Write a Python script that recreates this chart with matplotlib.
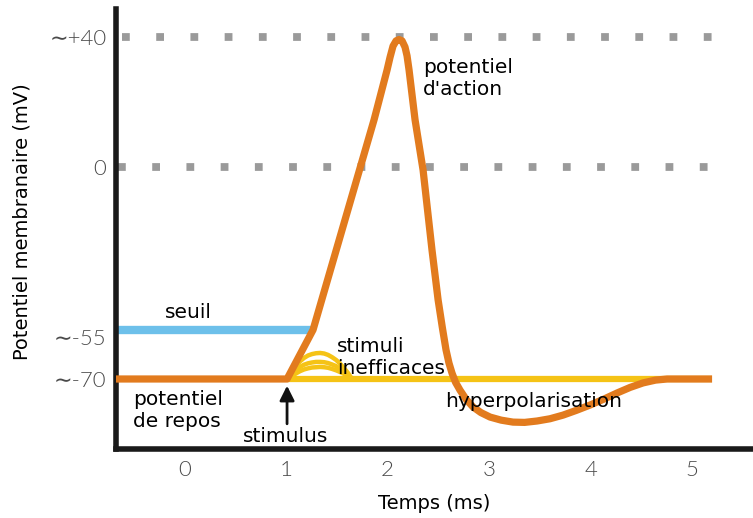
import numpy as np
import matplotlib
matplotlib.use("Agg")
import matplotlib.pyplot as plt

# ---------------- data ----------------
# action potential trace (time in ms, membrane potential in mV)
ap_t = [-0.68, 1.01, 1.266, 1.867, 1.995, 2.025, 2.054, 2.084, 2.113, 2.143,
        2.172, 2.192, 2.212, 2.271, 2.350, 2.438, 2.498, 2.540, 2.576, 2.605,
        2.635, 2.670, 2.714, 2.775, 2.842, 2.920, 3.010, 3.120, 3.236, 3.350,
        3.473, 3.600, 3.729, 3.860, 3.995, 4.130, 4.261, 4.390, 4.517, 4.640,
        4.754, 4.900, 5.197]
ap_v = [-70, -70, -52.7, 14.5, 29.8, 33.8, 37.2, 38.8, 39.2, 38.8,
        36.9, 34.2, 29.8, 14.5, -1.0, -26.9, -43.0, -52.0, -59.6, -64.3,
        -67.9, -71.2, -74.0, -77.3, -80.0, -82.0, -83.6, -84.7, -85.4, -85.5,
        -85.0, -84.2, -82.9, -81.2, -79.3, -77.2, -75.0, -73.0, -71.4, -70.4,
        -70.0, -70.0, -70.0]

# threshold line (seuil)
seuil_t = [-0.68, 1.266]
seuil_v = [-52.7, -52.7]

# resting baseline after stimulus (yellow)
base_t = [1.01, 5.197]
base_v = [-70, -70]

# ineffective stimuli bumps
bump_t = [1.020, 1.060, 1.099, 1.138, 1.177, 1.217, 1.256, 1.296, 1.335,
          1.375, 1.414, 1.453, 1.493, 1.532, 1.571, 1.611, 1.650]
bump1_v = [-70, -67.3, -65.4, -63.7, -62.5, -61.6, -61.1, -60.8, -60.7,
           -60.9, -61.4, -62.2, -63.2, -64.5, -66.1, -67.9, -70]
bump2_v = [-70, -68.1, -66.8, -65.7, -64.9, -64.4, -64.1, -63.9, -63.9,
           -64.0, -64.3, -64.8, -65.4, -66.3, -67.3, -68.6, -70]
bump3_v = [-70, -68.9, -68.0, -67.2, -66.6, -66.2, -65.9, -65.8, -65.7,
           -65.8, -66.0, -66.4, -66.9, -67.5, -68.2, -69.0, -70]

xticks = [0, 1, 2, 3, 4, 5]
ytick_vals = [-70, -55, 0, 40]
ytick_labels = ["\u223c-70", "\u223c-55", "0", "\u223c+40"]
ref_levels = [40, 0]

# ---------------- scale (schematic, piecewise) ----------------
mv_pts = np.array([-100.0, -70.0, -55.0, 0.0, 40.0, 60.0])
pos_pts = np.array([-463.0, -379.0, -337.0, -167.0, -37.0, 28.0])

def fwd(y):
    return np.interp(y, mv_pts, pos_pts)

def inv(p):
    return np.interp(p, pos_pts, mv_pts)

ORANGE = "#e27b1e"
BLUE = "#6dc0ea"
YELLOW = "#f5c316"
GREY = "#9a9a9a"

fig = plt.figure(figsize=(7.53, 5.18), dpi=100)
ax = fig.add_axes([116 / 753, 1 - 449 / 518, (753 - 116) / 753, (449 - 9) / 518])
ax.set_yscale("function", functions=(fwd, inv))
ax.set_xlim(-0.675, 5.60)
ax.set_ylim(-95, 48.6)

# dotted reference lines
ax.plot([-0.616, 5.227], [ref_levels[0]] * 2, color=GREY, lw=5.6,
        ls=(0, (1, 3.4)), dash_capstyle="butt", zorder=1)
ax.plot([-0.655, 5.17], [ref_levels[1]] * 2, color=GREY, lw=5.6,
        ls=(0, (1, 3.4)), dash_capstyle="butt", zorder=1)

# seuil
ax.plot(seuil_t, seuil_v, color=BLUE, lw=6, solid_capstyle="butt", zorder=2)
# yellow baseline and bumps
ax.plot(base_t, base_v, color=YELLOW, lw=4.5, solid_capstyle="butt", zorder=2)
for bv in (bump1_v, bump2_v, bump3_v):
    ax.plot(bump_t, bv, color=YELLOW, lw=3.2, solid_joinstyle="round",
            solid_capstyle="round", zorder=2)
# action potential
ax.plot(ap_t, ap_v, color=ORANGE, lw=5.2, solid_joinstyle="round",
        solid_capstyle="butt", zorder=3)

# axes styling
for s in ("top", "right"):
    ax.spines[s].set_visible(False)
for s in ("left", "bottom"):
    ax.spines[s].set_linewidth(4)
    ax.spines[s].set_color("#1a1a1a")
ax.set_xticks(xticks)
ax.set_xticklabels([str(x) for x in xticks])
ax.set_yticks(ytick_vals)
ax.set_yticklabels(ytick_labels)
ax.yaxis.set_minor_locator(matplotlib.ticker.NullLocator())
ax.tick_params(length=0)
ax.tick_params(axis="x", pad=8, labelcolor="#4a4a4a")
ax.tick_params(axis="y", pad=7, labelcolor="#4a4a4a")
for lab in ax.get_xticklabels() + ax.get_yticklabels():
    lab.set_family(["Lato", "DejaVu Sans"])
    lab.set_fontweight(300)
    lab.set_fontsize(16)

ax.set_xlabel("Temps (ms)", fontsize=14, labelpad=10)
fig.text(22 / 753, 1 - 222 / 518, "Potentiel membranaire (mV)", rotation=90,
         fontsize=14, ha="center", va="center")

fs = 14.5
ax.text(-0.192, -47.2, "seuil", fontsize=fs, ha="left", va="center", zorder=5)
ax.text(-0.507, -81.1, "potentiel\nde repos", fontsize=fs, ha="left", va="center", zorder=5)
ax.text(1.0, -90.4, "stimulus", fontsize=fs, ha="center", va="center", zorder=5)
ax.text(1.502, -62.3, "stimuli\ninefficaces", fontsize=fs, ha="left", va="center", zorder=5)
ax.text(2.35, 27.1, "potentiel\nd'action", fontsize=fs, ha="left", va="center", zorder=5)
ax.text(2.567, -78.2, "hyperpolarisation", fontsize=fs, ha="left", va="center", zorder=5)

ax.annotate("", xy=(1.01, -72.4), xytext=(1.01, -86.0),
            arrowprops=dict(arrowstyle="-|>", color="#111111", lw=2,
                            mutation_scale=22, shrinkA=0, shrinkB=0), zorder=5)

fig.savefig("out.png", dpi=100)
